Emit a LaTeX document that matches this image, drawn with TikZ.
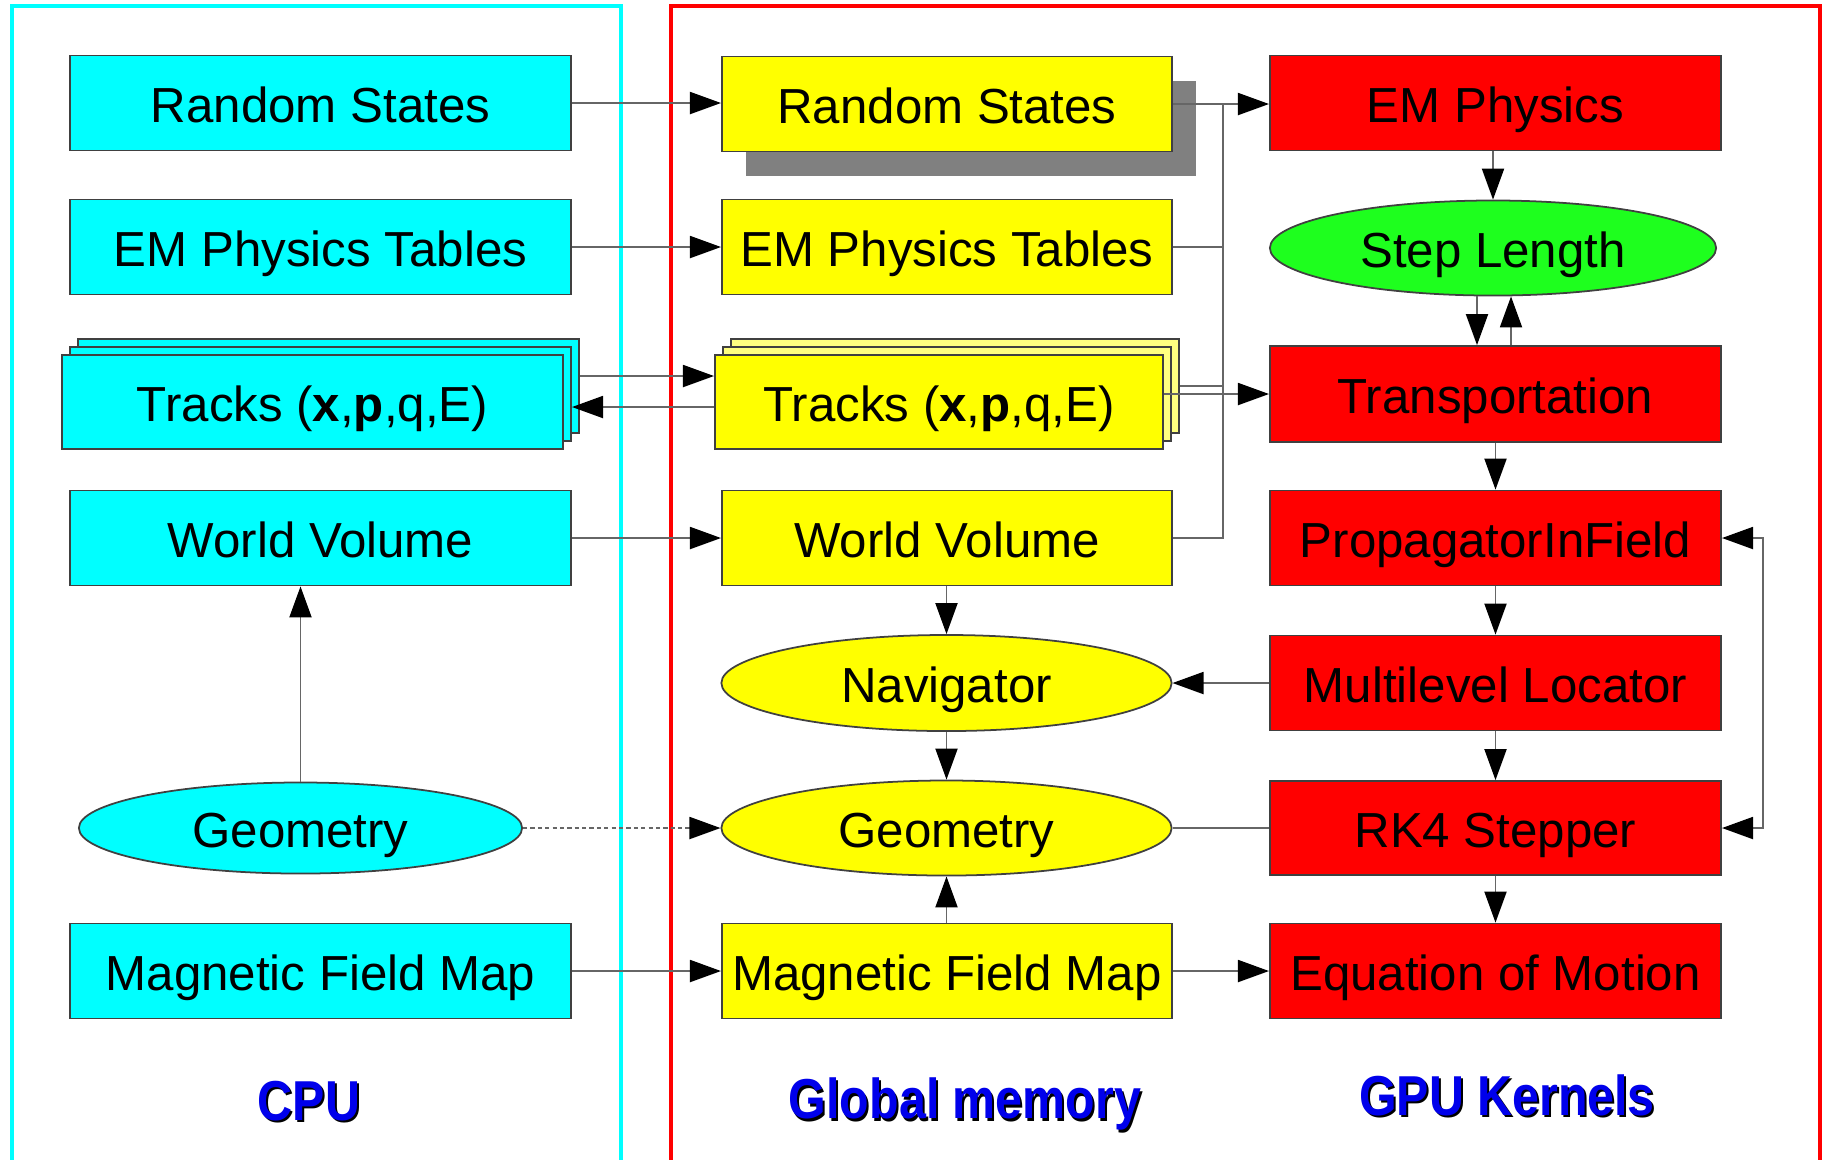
\documentclass[tikz,border=0pt]{standalone}
\usepackage{fontspec}
\setmainfont{Liberation Sans}
\usetikzlibrary{arrows.meta,shapes.geometric,shadows}
\definecolor{stepgreen}{RGB}{30,255,30}
\definecolor{lblblue}{RGB}{0,0,235}
\definecolor{shadowgray}{RGB}{128,128,128}
\definecolor{lightyel}{RGB}{255,255,128}
\definecolor{cyanfill}{RGB}{0,255,255}
\definecolor{redfill}{RGB}{255,0,0}
\definecolor{yelfill}{RGB}{255,255,0}
\tikzset{
  base/.style={draw=black!75, line width=0.5pt, inner sep=0pt, font=\fontsize{14}{16}\selectfont, text height=11.3pt, text depth=0pt},
  cbox/.style={base, rectangle, fill=cyanfill, minimum width=5.01cm, minimum height=0.95cm},
  ybox/.style={base, rectangle, fill=yelfill, minimum width=4.5cm, minimum height=0.95cm},
  rbox/.style={base, rectangle, fill=redfill, minimum width=4.51cm, minimum height=0.95cm},
  ell/.style={base, ellipse, minimum width=4.5cm, minimum height=0.95cm},
  tip/.tip={Triangle[length=0.31cm,width=0.22cm,fill=black,color=black]},
  conn/.style={draw=black!60, line width=0.55pt},
  arr/.style={conn, -tip},
  dblarr/.style={conn, tip-tip},
  lbl/.style={font=\bfseries\fontsize{16}{18}\selectfont, text=lblblue, xscale=0.86, inner sep=0pt},
  lblshadow/.style={lbl, text=black}
}
\begin{document}
\begin{tikzpicture}[x=0.01cm, y=-0.01cm]
\useasboundingbox (0,0) rectangle (1827,1159);
% frames
\draw[cyanfill, line width=1pt] (12,6) rectangle (621,1200);
\draw[redfill, line width=1pt] (671,6) rectangle (1820,1200);

% ---------- CPU column ----------
\node[cbox] (cRS) at (320.5,103) {Random States};
\node[cbox] (cEM) at (320.5,247) {EM Physics Tables};
\node[cbox, minimum height=0.94cm] (cTr3) at (328.5,386) {};
\node[cbox, minimum height=0.94cm] (cTr2) at (320.5,394) {};
\node[cbox, minimum height=0.94cm] (cTr) at (312.5,402) {Tracks (\textbf{x},\textbf{p},q,E)};
\node[cbox] (cWV) at (320.5,538) {World Volume};
\node[ell, fill=cyanfill, minimum width=4.43cm, minimum height=0.91cm] (cGeo) at (300.5,828) {Geometry};
\node[cbox] (cMag) at (320.5,971) {Magnetic Field Map};

% ---------- Global memory column ----------
\node[ybox, drop shadow={shadow xshift=0.24cm, shadow yshift=-0.24cm, fill=shadowgray, opacity=1}] (yRS) at (947,104) {Random States};
\node[ybox] (yEM) at (947,247) {EM Physics Tables};
\node[ybox, fill=lightyel, minimum width=4.48cm, minimum height=0.94cm] (yTr3) at (955,386) {};
\node[ybox, fill=lightyel, minimum width=4.48cm, minimum height=0.94cm] (yTr2) at (947,394) {};
\node[ybox, minimum width=4.48cm, minimum height=0.94cm] (yTr) at (939,402) {Tracks (\textbf{x},\textbf{p},q,E)};
\node[ybox] (yWV) at (947,538) {World Volume};
\node[ell, fill=yelfill, minimum height=0.96cm] (yNav) at (946.5,683) {Navigator};
\node[ell, fill=yelfill, minimum height=0.95cm] (yGeo) at (946.5,828) {Geometry};
\node[ybox] (yMag) at (947,971) {Magnetic Field Map};

% ---------- GPU kernels column ----------
\node[rbox] (rEM) at (1495.5,103) {EM Physics};
\node[ell, fill=stepgreen, minimum width=4.46cm, minimum height=0.95cm] (rSL) at (1493,248) {Step Length};
\node[rbox, minimum height=0.96cm] (rTr) at (1495.5,394) {Transportation};
\node[rbox] (rPIF) at (1495.5,538) {PropagatorInField};
\node[rbox] (rML) at (1495.5,683) {Multilevel Locator};
\node[rbox, minimum height=0.94cm] (rRK) at (1495.5,828) {RK4 Stepper};
\node[rbox] (rEoM) at (1495.5,971) {Equation of Motion};

% ---------- labels ----------
\node[lblshadow] (lCPUs) at (311,1103.5) {CPU};
\node[lbl] (lCPU) at (309,1101) {CPU};
\node[lblshadow] (lGMs) at (967,1106.5) {Global memory};
\node[lbl] (lGM) at (965,1104) {Global memory};
\node[lblshadow] (lGPUs) at (1509,1097.5) {GPU Kernels};
\node[lbl] (lGPU) at (1507,1095) {GPU Kernels};

% ---------- CPU -> global memory ----------
\draw[arr] (cRS.east) -- (yRS.west |- cRS.east);
\draw[arr] (cEM.east) -- (yEM.west);
\draw[arr] (cTr3.east |- 0,376) -- (yTr.west |- 0,376);
\draw[arr] (yTr.west |- 0,407) -- (cTr2.east |- 0,407);
\draw[arr] (cWV.east) -- (yWV.west);
\draw[arr, dash pattern=on 1.2pt off 0.9pt] (cGeo.east) -- (yGeo.west);
\draw[arr] (cMag.east) -- (yMag.west);
\draw[arr] (cGeo.north) -- (cGeo.north |- cWV.south);

% ---------- global memory internal ----------
\draw[arr] (yWV.south -| yNav.north) -- (yNav.north);
\draw[arr] (yNav.south) -- (yGeo.north);
\draw[arr] (yMag.north -| yGeo.south) -- (yGeo.south);

% ---------- bus to GPU kernels ----------
\coordinate (bus) at (1223,104);
\draw[arr] (yRS.east) -- (rEM.west |- yRS.east);
\draw[conn] (yEM.east) -| (bus);
\draw[conn] (yWV.east) -| (bus);
\draw[conn] (yTr3.east |- 0,386) -- (bus |- 0,386);
\draw[arr] (yTr.east |- rTr.west) -- (rTr.west);

% ---------- GPU kernels internal ----------
\draw[arr] (rEM.south -| rSL.north) -- (rSL.north);
\draw[arr] ([xshift=-0.16cm]rSL.south) -- ([xshift=-0.16cm]rSL.south |- rTr.north);
\draw[arr] ([xshift=0.18cm]rSL.south |- rTr.north) -- ([xshift=0.18cm]rSL.south);
\draw[arr] (rTr.south) -- (rPIF.north);
\draw[arr] (rPIF.south) -- (rML.north);
\draw[arr] (rML.south) -- (rRK.north);
\draw[arr] (rRK.south) -- (rEoM.north);
\draw[dblarr] (rPIF.east) -- (1763,0 |- rPIF.east) -- (1763,0 |- rRK.east) -- (rRK.east);

% ---------- cross links ----------
\draw[arr] (rML.west) -- (yNav.east);
\draw[conn] (yGeo.east) -- (rRK.west);
\draw[arr] (yMag.east) -- (rEoM.west);
\end{tikzpicture}
\end{document}
